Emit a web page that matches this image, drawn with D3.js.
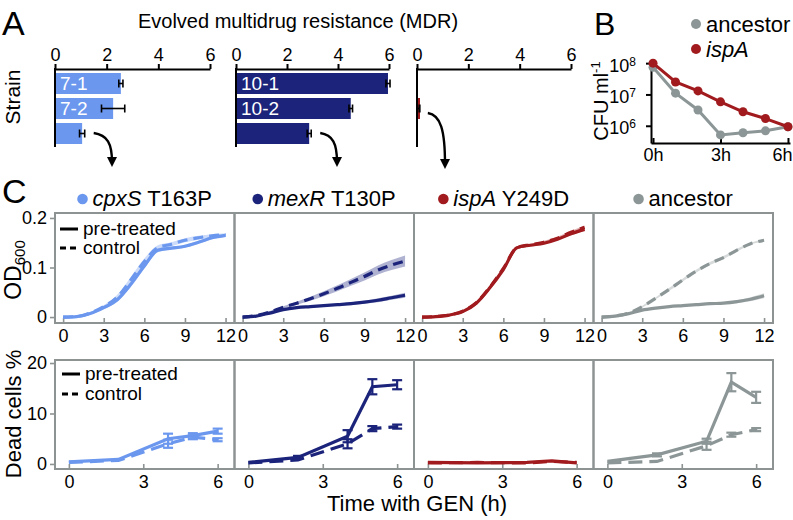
<!DOCTYPE html>
<html>
<head>
<meta charset="utf-8">
<script src="https://cdn.jsdelivr.net/npm/d3@7"></script>
<style>
  body { margin: 0; background: #fff; }
  svg { font-family: "Liberation Sans", Arial, Helvetica, sans-serif; }
</style>
</head>
<body>
<script>
// ---------- data ----------
// panel A: evolved MDR per strain (rows top to bottom)
const mdrTicks = [0, 2, 4, 6];
const cpxsMdr = [2.55, 2.25, 1.05];
const cpxsMdrErr = [0.08, 0.45, 0.1];
const cpxsStrains = ["7-1", "7-2", ""];
const mexrMdr = [5.96, 4.5, 2.87];
const mexrMdrErr = [0.08, 0.07, 0.08];
const mexrStrains = ["10-1", "10-2", ""];
const ispaMdr = [null, 0.07, null];
const ispaMdrErr = [null, 0.04, null];
const ispaStrains = ["", "", ""];

// panel B: CFU/ml over time
const cfuHours = [0, 1, 2, 3, 4, 5, 6];
const cfuAncestor = [7.4e7, 1.1e7, 3.2e6, 5.1e5, 6.0e5, 6.9e5, 9.3e5];
const cfuIspa = [1.0e8, 2.5e7, 1.3e7, 5.8e6, 2.8e6, 1.7e6, 9.3e5];
const cfuTicks = [1e6, 1e7, 1e8];
const cfuHourTicks = [0, 3, 6];

// panel C top: OD600 growth curves
const growthHours = [0, 1, 2, 3, 4, 5, 6, 7, 8, 9, 10, 11, 12];
const cpxsOdPre = [0.000, 0.001, 0.007, 0.019, 0.035, 0.066, 0.103, 0.135, 0.139, 0.143, 0.151, 0.160, 0.165];
const cpxsOdPreErr = [0.001, 0.001, 0.002, 0.003, 0.004, 0.005, 0.005, 0.004, 0.003, 0.003, 0.003, 0.003, 0.003];
const cpxsOdCtl = [0.000, 0.001, 0.008, 0.021, 0.040, 0.075, 0.112, 0.140, 0.147, 0.155, 0.160, 0.164, 0.166];
const cpxsOdCtlErr = [0.001, 0.001, 0.002, 0.003, 0.005, 0.006, 0.006, 0.005, 0.004, 0.004, 0.004, 0.003, 0.003];
const mexrOdPre = [0.000, 0.002, 0.008, 0.015, 0.019, 0.021, 0.023, 0.025, 0.027, 0.030, 0.034, 0.039, 0.044];
const mexrOdPreErr = [0.001, 0.001, 0.001, 0.002, 0.002, 0.002, 0.002, 0.002, 0.003, 0.003, 0.004, 0.004, 0.005];
const mexrOdCtl = [0.000, 0.003, 0.010, 0.020, 0.028, 0.037, 0.047, 0.058, 0.070, 0.082, 0.095, 0.105, 0.113];
const mexrOdCtlErr = [0.001, 0.001, 0.002, 0.002, 0.003, 0.004, 0.005, 0.006, 0.007, 0.008, 0.009, 0.010, 0.011];
const ispaOdPre = [0.000, 0.001, 0.004, 0.011, 0.028, 0.059, 0.096, 0.140, 0.145, 0.149, 0.157, 0.168, 0.177];
const ispaOdPreErr = [0.001, 0.001, 0.001, 0.002, 0.002, 0.002, 0.002, 0.002, 0.002, 0.002, 0.002, 0.003, 0.003];
const ispaOdCtl = [0.000, 0.001, 0.004, 0.012, 0.029, 0.060, 0.098, 0.140, 0.146, 0.151, 0.159, 0.171, 0.181];
const ispaOdCtlErr = [0.001, 0.001, 0.001, 0.002, 0.002, 0.002, 0.002, 0.002, 0.002, 0.003, 0.003, 0.003, 0.004];
const ancOdPre = [0.000, 0.002, 0.007, 0.014, 0.018, 0.021, 0.023, 0.025, 0.027, 0.028, 0.031, 0.036, 0.043];
const ancOdPreErr = [0.001, 0.001, 0.001, 0.001, 0.001, 0.001, 0.002, 0.002, 0.002, 0.002, 0.003, 0.004, 0.005];
const ancOdCtl = [0.000, 0.002, 0.008, 0.021, 0.038, 0.056, 0.075, 0.093, 0.108, 0.120, 0.135, 0.148, 0.155];
const ancOdCtlErr = [0.001, 0.001, 0.001, 0.002, 0.002, 0.003, 0.003, 0.003, 0.003, 0.003, 0.003, 0.002, 0.002];
const odTicks = [0, 0.1, 0.2];
const growthHourTicks = [0, 3, 6, 9, 12];

// panel C bottom: dead cells %
const deadHours = [0, 2, 4, 5, 6];
const cpxsDeadPre = [0.4, 0.9, 5.0, 5.6, 6.5];
const cpxsDeadPreErr = [0.2, 0.2, 1.0, 0.5, 0.5];
const cpxsDeadCtl = [0.3, 0.7, 4.0, 5.3, 4.8];
const cpxsDeadCtlErr = [0.1, 0.2, 0.8, 0.4, 0.3];
const mexrDeadPre = [0.3, 1.3, 5.5, 15.3, 15.7];
const mexrDeadPreErr = [0.1, 0.3, 1.2, 1.5, 0.9];
const mexrDeadCtl = [0.2, 0.8, 4.0, 7.0, 7.4];
const mexrDeadCtlErr = [0.1, 0.2, 0.9, 0.5, 0.4];
const ispaDeadPre = [0.3, 0.2, 0.3, 0.6, 0.2];
const ispaDeadPreErr = [0.1, 0.1, 0.1, 0.1, 0.1];
const ispaDeadCtl = [0.2, 0.3, 0.2, 0.5, 0.3];
const ispaDeadCtlErr = [0.1, 0.1, 0.1, 0.1, 0.1];
const ancDeadPre = [0.5, 1.8, 4.5, 16.2, 13.2];
const ancDeadPreErr = [0.2, 0.3, 0.5, 1.8, 1.1];
const ancDeadCtl = [0.2, 0.5, 3.6, 5.8, 6.8];
const ancDeadCtlErr = [0.1, 0.1, 0.8, 0.4, 0.3];
const deadTicks = [0, 10, 20];
const deadHourTicks = [0, 3, 6];

const genes = ["cpxS", "mexR", "ispA", null];
const mutations = [" T163P", " T130P", " Y249D", "ancestor"];

// ---------- style ----------
const FONT = '"Liberation Sans", Arial, Helvetica, sans-serif';
const colLight = "#6b97ee", colNavy = "#1b247a", colRed = "#a11b1e", colGray = "#8c9696";
const frameCol = "#8d9393";

const W = 793, H = 520;
const svg = d3.select("body").append("svg").attr("width", W).attr("height", H);

svg.append("defs").append("marker")
  .attr("id", "arrowhead").attr("viewBox", "0 0 10 10").attr("refX", 5).attr("refY", 5)
  .attr("markerWidth", 4.2).attr("markerHeight", 4.2).attr("orient", "auto")
  .append("path").attr("d", "M0,0 L10,5 L0,10 z").attr("fill", "#000");

function styleAxis(g, size) {
  g.attr("font-family", FONT).attr("font-size", size);
  g.selectAll("text").attr("fill", "#000");
}

// ---------- panel A ----------
svg.append("text").attr("x", 2).attr("y", 35).attr("font-size", 34).text("A");
svg.append("text").attr("x", 298).attr("y", 28).attr("text-anchor", "middle")
  .attr("font-size", 20).text("Evolved multidrug resistance (MDR)");
svg.append("text").attr("transform", "translate(20,97) rotate(-90)")
  .attr("text-anchor", "middle").attr("font-size", 21).text("Strain");

const rowY = d3.scaleBand().domain([0, 1, 2]).range([71, 146]).paddingInner(0.16).paddingOuter(0.08);
const mdrPanels = [
  { x0: 55, x1: 210, vals: cpxsMdr, errs: cpxsMdrErr, labels: cpxsStrains, color: colLight },
  { x0: 236, x1: 389, vals: mexrMdr, errs: mexrMdrErr, labels: mexrStrains, color: colNavy },
  { x0: 417, x1: 571, vals: ispaMdr, errs: ispaMdrErr, labels: ispaStrains, color: colRed }
];
const mdrScales = [];
mdrPanels.forEach(p => {
  const x = d3.scaleLinear().domain([0, 6]).range([p.x0, p.x1]);
  mdrScales.push(x);
  const g = svg.append("g");
  g.append("g").attr("transform", "translate(0,69)")
    .call(d3.axisTop(x).tickValues(mdrTicks).tickFormat(d3.format("d")).tickSize(5).tickSizeOuter(0).tickPadding(3))
    .call(a => { styleAxis(a, 18); a.selectAll("path,line").attr("stroke-width", 2); });
  g.append("line").attr("x1", x(0)).attr("x2", x(0)).attr("y1", 68).attr("y2", 147)
    .attr("stroke", "#000").attr("stroke-width", 2);
  const rows = p.vals.map((v, i) => ({ v, e: p.errs[i], label: p.labels[i], i })).filter(d => d.v != null);
  g.selectAll("rect.bar").data(rows).enter().append("rect").attr("class", "bar")
    .attr("x", x(0) + 1).attr("y", d => rowY(d.i))
    .attr("width", d => Math.max(2, x(d.v) - x(0) - 1)).attr("height", rowY.bandwidth())
    .attr("fill", p.color);
  const eb = g.selectAll("g.err").data(rows).enter().append("g").attr("class", "err")
    .attr("stroke", "#000").attr("stroke-width", 1.6);
  eb.append("line").attr("x1", d => x(d.v - d.e)).attr("x2", d => x(d.v + d.e))
    .attr("y1", d => rowY(d.i) + rowY.bandwidth() / 2).attr("y2", d => rowY(d.i) + rowY.bandwidth() / 2);
  [-1, 1].forEach(s => eb.append("line")
    .attr("x1", d => x(d.v + s * d.e)).attr("x2", d => x(d.v + s * d.e))
    .attr("y1", d => rowY(d.i) + rowY.bandwidth() / 2 - 4).attr("y2", d => rowY(d.i) + rowY.bandwidth() / 2 + 4));
  g.selectAll("text.lab").data(rows.filter(d => d.label)).enter().append("text").attr("class", "lab")
    .attr("x", x(0) + 5).attr("y", d => rowY(d.i) + rowY.bandwidth() / 2 + 6.5)
    .attr("fill", "#fff").attr("font-size", 19).text(d => d.label);
});

// ---------- panel B ----------
svg.append("text").attr("x", 594).attr("y", 35).attr("font-size", 32).text("B");
const xB = d3.scaleLinear().domain([-0.09, 6.09]).range([651, 790]);
const yB = d3.scaleLog().domain([10 ** 5.45, 10 ** 8.1]).range([143, 60]);
svg.append("g").attr("transform", "translate(0,143)")
  .call(d3.axisBottom(xB).tickValues(cfuHourTicks).tickFormat(d => d + "h")
    .tickSizeInner(-5).tickSizeOuter(0).tickPadding(5))
  .call(a => {
    styleAxis(a, 18);
    a.selectAll("path,line").attr("stroke-width", 2);
    a.selectAll(".tick text").filter(d => d === 6).attr("text-anchor", "end").attr("x", 4);
  });
svg.append("g").attr("transform", "translate(651,0)")
  .call(d3.axisLeft(yB).tickValues(cfuTicks).tickSize(5).tickSizeOuter(0).tickPadding(4).tickFormat(() => ""))
  .call(a => {
    styleAxis(a, 18);
    a.selectAll("path,line").attr("stroke-width", 2);
    a.selectAll(".tick text").each(function (d) {
      const t = d3.select(this).attr("dy", "0.45em");
      t.append("tspan").attr("dx", -6).text("10");
      t.append("tspan").attr("dy", "-0.5em").attr("font-size", 12).text(Math.round(Math.log10(d)));
    });
  });
svg.append("text").attr("transform", "translate(608,101) rotate(-90)").attr("text-anchor", "middle")
  .attr("font-size", 20)
  .call(t => { t.append("tspan").text("CFU ml"); t.append("tspan").attr("dy", -8).attr("font-size", 13).text("-1"); });

const cfuLine = d3.line().x(d => xB(d[0])).y(d => yB(d[1]));
[[cfuAncestor, colGray], [cfuIspa, colRed]].forEach(([vals, c]) => {
  const pts = cfuHours.map((h, i) => [h, vals[i]]);
  svg.append("path").datum(pts).attr("d", cfuLine).attr("fill", "none")
    .attr("stroke", c).attr("stroke-width", 3);
  svg.append("g").selectAll("circle").data(pts).enter().append("circle")
    .attr("cx", d => xB(d[0])).attr("cy", d => yB(d[1])).attr("r", 4.5).attr("fill", c);
});
[["ancestor", colGray, 24, false], ["ispA", colRed, 49, true]].forEach(([lab, c, y, it]) => {
  svg.append("circle").attr("cx", 696).attr("cy", y).attr("r", 5).attr("fill", c);
  svg.append("text").attr("x", 706).attr("y", y + 7.5).attr("font-size", 22)
    .attr("font-style", it ? "italic" : "normal").text(lab);
});

// arrows from panel A to panel C titles
const arrows = [
  [mdrScales[0](cpxsMdr[2] + cpxsMdrErr[2]) + 9, rowY(2) + rowY.bandwidth() - 11, 112, 168],
  [mdrScales[1](mexrMdr[2] + mexrMdrErr[2]) + 9, rowY(2) + rowY.bandwidth() - 11, 337, 168],
  [mdrScales[2](ispaMdr[1] + ispaMdrErr[1]) + 8, rowY(1) + rowY.bandwidth() - 6, 445, 170]
];
arrows.forEach(([x1, y1, x2, y2]) => {
  const p = d3.path();
  p.moveTo(x1, y1);
  p.bezierCurveTo(x1 + (x2 - x1) * 0.75, y1 + 2, x2, y1 + (y2 - y1) * 0.3, x2, y2 - 6);
  svg.append("path").attr("d", p.toString()).attr("fill", "none").attr("stroke", "#000")
    .attr("stroke-width", 2.4).attr("marker-end", "url(#arrowhead)");
});

// ---------- panel C ----------
svg.append("text").attr("x", 2).attr("y", 203).attr("font-size", 34).text("C");
const panelLeft = [55, 234.5, 414, 593.5];
const panelW = 179.5;
const colors = [colLight, colNavy, colRed, colGray];
const odSeries = [
  [cpxsOdPre, cpxsOdPreErr, cpxsOdCtl, cpxsOdCtlErr],
  [mexrOdPre, mexrOdPreErr, mexrOdCtl, mexrOdCtlErr],
  [ispaOdPre, ispaOdPreErr, ispaOdCtl, ispaOdCtlErr],
  [ancOdPre, ancOdPreErr, ancOdCtl, ancOdCtlErr]
];
const deadSeries = [
  [cpxsDeadPre, cpxsDeadPreErr, cpxsDeadCtl, cpxsDeadCtlErr],
  [mexrDeadPre, mexrDeadPreErr, mexrDeadCtl, mexrDeadCtlErr],
  [ispaDeadPre, ispaDeadPreErr, ispaDeadCtl, ispaDeadCtlErr],
  [ancDeadPre, ancDeadPreErr, ancDeadCtl, ancDeadCtlErr]
];
const topY = d3.scaleLinear().domain([-0.012, 0.21]).range([323, 213]);
const botY = d3.scaleLinear().domain([-1, 20.6]).range([469, 360]);

// titles
panelLeft.forEach((L, i) => {
  const cx = L + panelW / 2;
  const g = svg.append("g");
  const t = g.append("text").attr("y", 206).attr("font-size", 22);
  if (genes[i]) t.append("tspan").attr("font-style", "italic").text(genes[i]);
  t.append("tspan").text(mutations[i]);
  const tw = t.node().getComputedTextLength();
  const start = cx - (tw + 15) / 2;
  g.append("circle").attr("cx", start + 5).attr("cy", 199).attr("r", 5.3).attr("fill", colors[i]);
  t.attr("x", start + 15);
});

function drawPanel(L, i, y, xDomain, xTicks, yTicks, series, isTop) {
  const x = d3.scaleLinear().domain(xDomain).range([L, L + panelW]);
  const g = svg.append("g");
  const [y0, y1] = y.range();
  const c = colors[i];
  // x ticks inside bottom
  g.append("g").attr("transform", `translate(0,${y0})`)
    .call(d3.axisBottom(x).tickValues(xTicks).tickSizeInner(-5).tickSizeOuter(0).tickPadding(6))
    .call(a => {
      styleAxis(a, 18);
      a.select(".domain").remove();
      a.selectAll("line").attr("stroke", frameCol).attr("stroke-width", 1.6);
    });
  if (i === 0) {
    g.append("g").attr("transform", `translate(${L},0)`)
      .call(d3.axisLeft(y).tickValues(yTicks).tickSize(5).tickSizeOuter(0).tickPadding(3)
        .tickFormat(d => isTop ? (d === 0 ? "0" : d3.format(".1f")(d)) : d))
      .call(a => {
        styleAxis(a, 18);
        a.select(".domain").remove();
        a.selectAll("line").attr("stroke", frameCol).attr("stroke-width", 1.6);
      });
  }
  const [pre, preErr, ctl, ctlErr] = series;
  const hours = isTop ? growthHours : deadHours;
  const curve = isTop ? d3.curveMonotoneX : d3.curveLinear;
  const line = d3.line().x(d => x(d.h)).y(d => y(d.v)).curve(curve);
  const area = d3.area().x(d => x(d.h)).y0(d => y(d.v - d.e)).y1(d => y(d.v + d.e)).curve(curve);
  const toPts = (v, e) => hours.map((h, k) => ({ h, v: v[k], e: e[k] }));
  const ctlPts = toPts(ctl, ctlErr), prePts = toPts(pre, preErr);
  if (isTop) {
    [ctlPts, prePts].forEach(pts => g.append("path").datum(pts).attr("d", area)
      .attr("fill", c).attr("opacity", 0.35));
  }
  g.append("path").datum(ctlPts).attr("d", line).attr("fill", "none").attr("stroke", c)
    .attr("stroke-width", 3.2).attr("stroke-dasharray", isTop ? "10,6" : "14,7");
  g.append("path").datum(prePts).attr("d", line).attr("fill", "none").attr("stroke", c)
    .attr("stroke-width", 3.2);
  if (!isTop) {
    [ctlPts, prePts].forEach(pts => {
      const eb = g.append("g").attr("stroke", c).attr("stroke-width", 2.2)
        .selectAll("g").data(pts.filter(d => d.e >= 0.3)).enter().append("g");
      eb.append("line").attr("x1", d => x(d.h)).attr("x2", d => x(d.h))
        .attr("y1", d => y(d.v - d.e)).attr("y2", d => y(d.v + d.e));
      [-1, 1].forEach(s => eb.append("line").attr("x1", d => x(d.h) - 5).attr("x2", d => x(d.h) + 5)
        .attr("y1", d => y(d.v + s * d.e)).attr("y2", d => y(d.v + s * d.e)));
    });
  }
  g.append("rect").attr("x", L).attr("y", y1).attr("width", panelW).attr("height", y0 - y1)
    .attr("fill", "none").attr("stroke", frameCol).attr("stroke-width", 2);
  return x;
}

panelLeft.forEach((L, i) => {
  drawPanel(L, i, topY, [-0.6, 12.66], growthHourTicks, odTicks, odSeries[i], true);
  drawPanel(L, i, botY, [-0.56, 6.68], deadHourTicks, deadTicks, deadSeries[i], false);
});

// legends
function legend(x, ySolid, yDash) {
  svg.append("line").attr("x1", x).attr("x2", x + 18).attr("y1", ySolid).attr("y2", ySolid)
    .attr("stroke", "#000").attr("stroke-width", 3);
  svg.append("line").attr("x1", x).attr("x2", x + 18).attr("y1", yDash).attr("y2", yDash)
    .attr("stroke", "#000").attr("stroke-width", 3).attr("stroke-dasharray", "6,4");
  svg.append("text").attr("x", x + 23).attr("y", ySolid + 6).attr("font-size", 19).text("pre-treated");
  svg.append("text").attr("x", x + 23).attr("y", yDash + 6).attr("font-size", 19).text("control");
}
legend(60, 229, 248);
legend(62, 374, 394);

// axis titles
svg.append("text").attr("transform", "translate(21,270) rotate(-90)").attr("text-anchor", "middle")
  .attr("font-size", 23)
  .call(t => { t.append("tspan").text("OD"); t.append("tspan").attr("dy", 4).attr("font-size", 15).text("600"); });
svg.append("text").attr("transform", "translate(21,414) rotate(-90)").attr("text-anchor", "middle")
  .attr("font-size", 22).text("Dead cells %");
svg.append("text").attr("x", 417).attr("y", 511).attr("text-anchor", "middle")
  .attr("font-size", 22).text("Time with GEN (h)");
</script>
</body>
</html>
